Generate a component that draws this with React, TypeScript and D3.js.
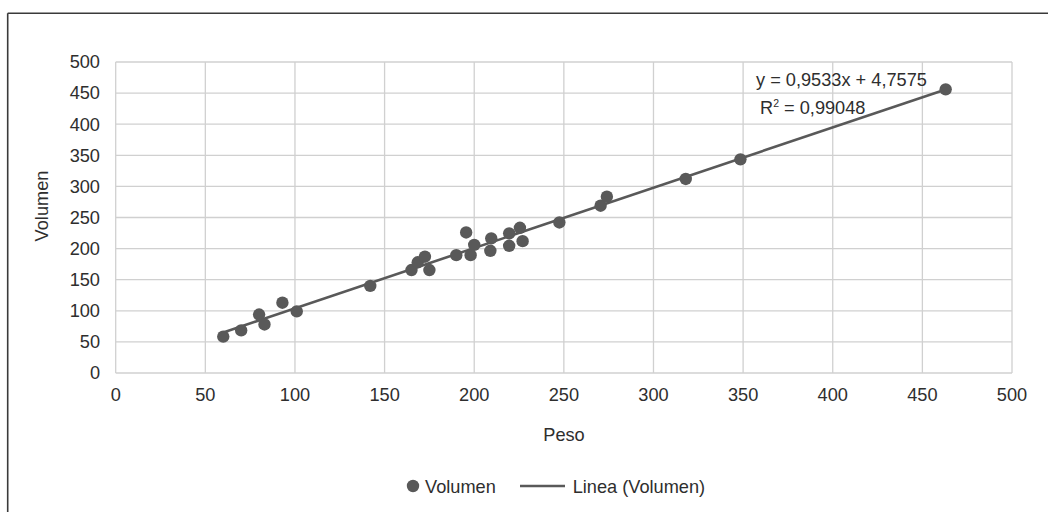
import React from "react";
import * as d3 from "d3";

const pesoValues = [60, 70, 80, 83, 93, 101, 142, 165, 168.5, 172.5, 175, 190, 195.5, 198, 200, 209, 209.5, 219.5, 219.5, 225.5, 227, 247.5, 270.5, 274, 318, 348.5, 463];
const volumenValues = [58.5, 68.5, 94, 78, 113, 99, 140, 165.5, 178, 187, 165.5, 189.5, 226, 189.5, 206, 196.5, 216.5, 224.5, 204.5, 233.5, 212, 242, 269, 283.5, 312, 343.5, 456];
const xTicks = [0, 50, 100, 150, 200, 250, 300, 350, 400, 450, 500];
const yTicks = [0, 50, 100, 150, 200, 250, 300, 350, 400, 450, 500];
const equationText = "y = 0,9533x + 4,7575";
const r2Value = "0,99048";
const xTitle = "Peso";
const yTitle = "Volumen";
const legendPoint = "Volumen";
const legendLine = "Linea (Volumen)";

const W = 1048;
const H = 512;
const FONT = "'Liberation Sans', Arial, sans-serif";
const GREY = "#595959";
const TEXT = "#2e2e2e";
const FS = 18.2;

export default function App() {
  const x = d3.scaleLinear().domain([0, 500]).range([115.7, 1012]);
  const y = d3.scaleLinear().domain([0, 500]).range([373, 62]);

  const pts = pesoValues.map((p, i) => ({ p, v: volumenValues[i] }));
  const mx = d3.mean(pesoValues)!;
  const my = d3.mean(volumenValues)!;
  const sxy = d3.sum(pts, (d) => (d.p - mx) * (d.v - my));
  const sxx = d3.sum(pts, (d) => (d.p - mx) * (d.p - mx));
  const slope = sxy / sxx;
  const intercept = my - slope * mx;
  const [x0, x1] = d3.extent(pesoValues) as [number, number];
  const line = d3
    .line<number>()
    .x((d) => x(d))
    .y((d) => y(slope * d + intercept));

  return (
    <div style={{ position: "absolute", left: 0, top: 0 }}>
      <svg width={W} height={H} style={{ display: "block", background: "#fff" }} fontFamily={FONT}>
        <rect x={0} y={0} width={W} height={H} fill="#fff" />
        <line x1={7.7} y1={13.3} x2={W + 5} y2={13.3} stroke="#3a3a3a" strokeWidth={1.6} />
        <line x1={7.7} y1={13.3} x2={7.7} y2={H + 5} stroke="#3a3a3a" strokeWidth={1.6} />

        {yTicks.map((t) => (
          <line key={"gy" + t} x1={x(0)} x2={x(500)} y1={y(t)} y2={y(t)} stroke="#d0d0d0" strokeWidth={1.3} />
        ))}
        {xTicks.map((t) => (
          <line key={"gx" + t} x1={x(t)} x2={x(t)} y1={y(0)} y2={y(500)} stroke="#d0d0d0" strokeWidth={1.3} />
        ))}

        {yTicks.map((t) => (
          <text key={"ty" + t} x={100} y={y(t)} dy="0.35em" textAnchor="end" fontSize={FS} fill={TEXT}>
            {t}
          </text>
        ))}
        {xTicks.map((t) => (
          <text key={"tx" + t} x={x(t)} y={400.5} textAnchor="middle" fontSize={FS} fill={TEXT}>
            {t}
          </text>
        ))}

        <text x={564} y={441} textAnchor="middle" fontSize={FS} fill={TEXT}>
          {xTitle}
        </text>
        <text transform={`translate(47.5,206) rotate(-90)`} textAnchor="middle" fontSize={FS} fill={TEXT}>
          {yTitle}
        </text>

        <path d={line([x0, x1]) || ""} fill="none" stroke={GREY} strokeWidth={2.6} />

        {pts.map((d, i) => (
          <circle key={i} cx={x(d.p)} cy={y(d.v)} r={6.2} fill={GREY} />
        ))}

        <text x={756} y={85.5} fontSize={FS} fill={TEXT}>
          {equationText}
        </text>
        <text x={760} y={114} fontSize={FS} fill={TEXT}>
          R<tspan fontSize={10.5} dy={-7}>2</tspan>
          <tspan dy={7}>{" = " + r2Value}</tspan>
        </text>

        <circle cx={413} cy={486} r={6.2} fill={GREY} />
        <text x={425} y={492.5} fontSize={FS} fill={TEXT}>
          {legendPoint}
        </text>
        <line x1={520} x2={565} y1={486} y2={486} stroke={GREY} strokeWidth={2.6} />
        <text x={572.7} y={492.5} fontSize={FS} fill={TEXT}>
          {legendLine}
        </text>
      </svg>
    </div>
  );
}
